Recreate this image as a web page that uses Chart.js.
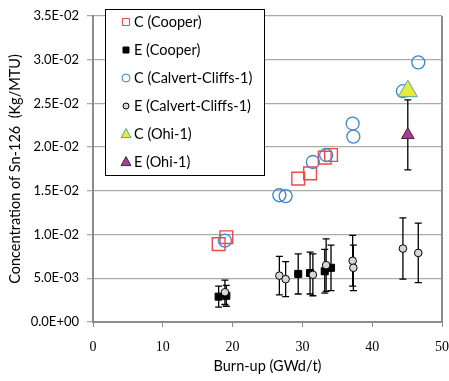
<!DOCTYPE html>
<html><head><meta charset="utf-8">
<script src="https://cdn.jsdelivr.net/npm/chart.js@4.4.0/dist/chart.umd.min.js"></script>
<style>html,body{margin:0;padding:0;background:#fff;}#wrap{width:449px;height:381px;}</style>
</head><body><div id="wrap"><canvas id="c" width="449" height="381"></canvas></div>
<script>
// ---- data ----
const cooperBurnup = [18.0, 19.1, 29.4, 31.1, 33.2, 34.1];
const cooperCalc   = [0.0089, 0.0097, 0.0164, 0.0170, 0.0188, 0.0191];
const cooperExp    = [0.0029, 0.0030, 0.0055, 0.0056, 0.0058, 0.0062];
const cooperExpErr = [0.0012, 0.0012, 0.0023, 0.0024, 0.0025, 0.0026];

const calvertBurnup = [18.9, 26.7, 27.6, 31.5, 33.4, 37.2, 37.3, 44.4, 46.6];
const calvertCalc   = [0.0093, 0.0145, 0.0144, 0.0183, 0.0191, 0.0227, 0.0212, 0.0264, 0.0297];
const calvertExp    = [0.0034, 0.0053, 0.0049, 0.0054, 0.0065, 0.0070, 0.0062, 0.0084, 0.0079];
const calvertExpErr = [0.0014, 0.0022, 0.0020, 0.0024, 0.0030, 0.0029, 0.0026, 0.0035, 0.0034];

const ohiBurnup = [45.1];
const ohiCalc   = [0.0264];
const ohiExp    = [0.0214];
const ohiExpErr = [0.0040];

const seriesLabels = ['C (Cooper)', 'E (Cooper)', 'C (Calvert-Cliffs-1)', 'E (Calvert-Cliffs-1)', 'C (Ohi-1)', 'E (Ohi-1)'];
const xTickStep = 10, xMin = 0, xMax = 50;
const yTickStep = 0.005, yMin = 0, yMax = 0.035;

// ---- helpers ----
const pts = (xs, ys) => xs.map((x, i) => ({x: x, y: ys[i]}));
function sci(v) {
  if (Math.abs(v) < 1e-12) return '0.0E+00';
  const e = Math.floor(Math.log10(Math.abs(v)) + 1e-9);
  const m = v / Math.pow(10, e);
  return m.toFixed(1) + 'E' + (e < 0 ? '-' : '+') + String(Math.abs(e)).padStart(2, '0');
}

const styles = [
  {pointStyle: 'rect', pointRadius: 9, backgroundColor: 'rgba(0,0,0,0)', borderColor: '#f04848', pointBorderWidth: 1.4},
  {pointStyle: 'rect', pointRadius: 5, backgroundColor: '#000', borderColor: '#000', pointBorderWidth: 1},
  {pointStyle: 'circle', pointRadius: 6.5, backgroundColor: 'rgba(0,0,0,0)', borderColor: '#3f86cc', pointBorderWidth: 1.3},
  {pointStyle: 'circle', pointRadius: 3.8, backgroundColor: '#d6d6d6', borderColor: '#000', pointBorderWidth: 1},
  {pointStyle: 'triangle', pointRadius: 11, backgroundColor: '#eaea3c', borderColor: '#4fa6b0', pointBorderWidth: 1},
  {pointStyle: 'triangle', pointRadius: 7.3, backgroundColor: '#a3408f', borderColor: '#4a1f44', pointBorderWidth: 1}
];

const dataSets = [
  pts(cooperBurnup, cooperCalc), pts(cooperBurnup, cooperExp),
  pts(calvertBurnup, calvertCalc), pts(calvertBurnup, calvertExp),
  pts(ohiBurnup, ohiCalc), pts(ohiBurnup, ohiExp)
];
const errs = [null, cooperExpErr, null, calvertExpErr, null, ohiExpErr];

const datasets = dataSets.map((d, i) => Object.assign({
  label: seriesLabels[i], data: d, errors: errs[i], order: 6 - i, showLine: false
}, styles[i]));

const errorBarPlugin = {
  id: 'errbars',
  beforeDatasetsDraw(chart) {
    const ctx = chart.ctx, xs = chart.scales.x, ys = chart.scales.y, a = chart.chartArea;
    ctx.save();
    ctx.strokeStyle = '#8c8c8c'; ctx.lineWidth = 2;
    ctx.beginPath(); ctx.moveTo(a.right, a.top); ctx.lineTo(a.right, a.bottom); ctx.stroke();
    ctx.strokeStyle = '#000'; ctx.lineWidth = 1.3;
    chart.data.datasets.forEach(ds => {
      if (!ds.errors) return;
      ds.data.forEach((p, j) => {
        const e = ds.errors[j];
        const px = xs.getPixelForValue(p.x);
        const y1 = ys.getPixelForValue(p.y + e), y2 = ys.getPixelForValue(p.y - e);
        ctx.beginPath();
        ctx.moveTo(px, y1); ctx.lineTo(px, y2);
        ctx.moveTo(px - 3.5, y1); ctx.lineTo(px + 3.5, y1);
        ctx.moveTo(px - 3.5, y2); ctx.lineTo(px + 3.5, y2);
        ctx.stroke();
      });
    });
    ctx.restore();
  }
};

function marker(ctx, st, x, y, s) {
  ctx.save();
  ctx.beginPath();
  if (st.pointStyle === 'rect') {
    ctx.rect(x - s, y - s, 2 * s, 2 * s);
  } else if (st.pointStyle === 'circle') {
    ctx.arc(x, y, s, 0, Math.PI * 2);
  } else {
    ctx.moveTo(x, y - s * 1.2); ctx.lineTo(x + s * 1.1, y + s * 0.8); ctx.lineTo(x - s * 1.1, y + s * 0.8); ctx.closePath();
  }
  ctx.fillStyle = st.backgroundColor; ctx.fill();
  ctx.strokeStyle = st.borderColor; ctx.lineWidth = 1; ctx.stroke();
  ctx.restore();
}

const legendPlugin = {
  id: 'boxlegend',
  afterDraw(chart) {
    const ctx = chart.ctx;
    ctx.save();
    ctx.fillStyle = '#fff';
    ctx.fillRect(105, 9, 159, 166);
    ctx.strokeStyle = '#000'; ctx.lineWidth = 1;
    ctx.strokeRect(105.5, 9.5, 159, 166);
    const sizes = [3.5, 3, 4, 3, 4.5, 4.5];
    seriesLabels.forEach((t, i) => {
      const y = 22 + i * 28;
      marker(ctx, styles[i], 126, y, sizes[i]);
      ctx.fillStyle = '#000';
      ctx.font = '14.5px Lato';
      ctx.textBaseline = 'middle';
      ctx.textAlign = 'left';
      ctx.fillText(t, 134, y);
    });
    ctx.restore();
  }
};

new Chart(document.getElementById('c'), {
  type: 'scatter',
  data: {datasets},
  options: {
    responsive: false, animation: false, devicePixelRatio: 1,
    layout: {autoPadding: false, padding: {top: 16, right: 7, left: 0, bottom: 0}},
    plugins: {legend: {display: false}, tooltip: {enabled: false}},
    scales: {
      x: {
        type: 'linear', min: xMin, max: xMax, position: 'bottom',
        ticks: {stepSize: xTickStep, font: {family: 'Liberation Serif', size: 14, lineHeight: '41px'}, color: '#000', padding: 0, maxRotation: 0},
        grid: {drawOnChartArea: false, drawTicks: true, tickLength: 5, color: '#8c8c8c', lineWidth: 1},
        border: {color: '#8c8c8c', width: 2},
        title: {display: true, text: 'Burn-up (GWd/t)', font: {family: 'Lato', size: 14.5}, color: '#000', padding: {top: 0, bottom: 6}},
        afterFit: s => { s.height = 59; s.paddingLeft = 0; s.paddingRight = 0; }
      },
      y: {
        type: 'linear', min: yMin, max: yMax,
        ticks: {stepSize: yTickStep, callback: v => sci(v), font: {family: 'Lato', size: 13}, color: '#000', padding: 8},
        grid: {color: '#ababab', lineWidth: 1.3, tickLength: 6},
        border: {color: '#8c8c8c', width: 2},
        title: {display: true, text: 'Concentration of Sn-126  (Kg/MTU)', font: {family: 'Lato', size: 14.5}, color: '#000', padding: {top: 7, bottom: 0}},
        afterFit: s => { s.width = 93; s.paddingTop = 0; s.paddingBottom = 0; }
      }
    }
  },
  plugins: [errorBarPlugin, legendPlugin]
});
</script></body></html>
